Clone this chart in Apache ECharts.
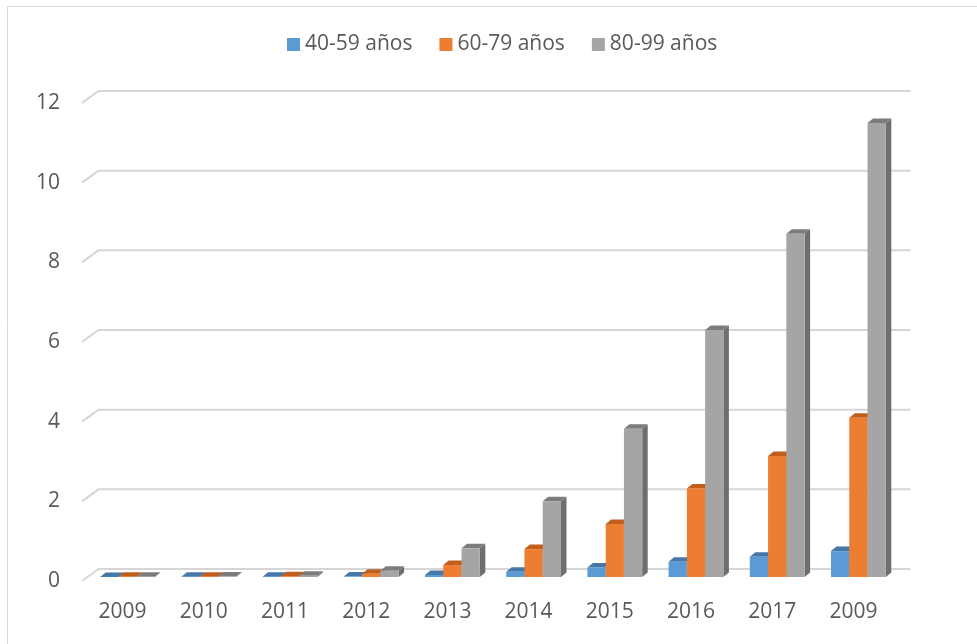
<!DOCTYPE html>
<html>
<head>
<meta charset="utf-8">
<script src="https://cdn.jsdelivr.net/npm/echarts@6/dist/echarts.min.js"></script>
<style>html,body{margin:0;padding:0;background:#fff}#c{width:977px;height:644px}</style>
</head>
<body>
<div id="c"></div>
<script>
var categories = ['2009','2010','2011','2012','2013','2014','2015','2016','2017','2009'];
var seriesNames = ['40-59 años','60-79 años','80-99 años'];
var age40_59 = [0.003,0.004,0.005,0.01,0.05,0.13,0.24,0.38,0.51,0.65];
var age60_79 = [0.005,0.008,0.02,0.08,0.30,0.70,1.33,2.22,3.04,4.00];
var age80_99 = [0.006,0.012,0.03,0.16,0.72,1.90,3.72,6.20,8.62,11.40];
var yTicks = [0,2,4,6,8,10,12];

var FONT = '"Open Sans", "Liberation Sans", sans-serif';
var TEXT = '#595959';
var faces = [
  {front:'#5b9bd5', top:'#4577a8', side:'#3f6e9a'},
  {front:'#ed7d31', top:'#c25e1c', side:'#b35418'},
  {front:'#a5a5a5', top:'#7c7c7c', side:'#6e6e6e'}
];
var BAR_FRAC = 0.225;
var FRONT_DX = 5, FRONT_DY = -4;   // bar front face depth offset
var DEP_DX = 5.5, DEP_DY = -4.5;   // bar depth
var WALL_DX = 16.5, WALL_DY = -12; // back wall depth

function barRender(sIdx){
  return function(params, api){
    var ci = api.value(0), v = api.value(1);
    var base = api.coord([ci, 0]);
    var top = api.coord([ci, v]);
    var band = api.size([1, 0])[0];
    var bw = band * BAR_FRAC;
    var x0 = base[0] + (sIdx - 1) * bw - bw / 2 + FRONT_DX;
    var yb = base[1] + FRONT_DY;
    var yt = top[1] + FRONT_DY;
    var f = faces[sIdx];
    return {type:'group', children:[
      {type:'polygon', shape:{points:[[x0+bw,yt],[x0+bw+DEP_DX,yt+DEP_DY],[x0+bw+DEP_DX,yb+DEP_DY],[x0+bw,yb]]}, style:{fill:f.side}},
      {type:'polygon', shape:{points:[[x0,yt],[x0+bw,yt],[x0+bw+DEP_DX,yt+DEP_DY],[x0+DEP_DX,yt+DEP_DY]]}, style:{fill:f.top}},
      {type:'rect', shape:{x:x0, y:yt, width:bw, height:Math.max(yb-yt,0)}, style:{fill:f.front}}
    ]};
  };
}

function gridRender(params, api){
  var v = api.value(0);
  var p0 = api.coord([0, v]);
  var band = api.size([1, 0])[0];
  var xs = p0[0] - band / 2;
  var xe = api.coord([categories.length - 1, v])[0] + band / 2;
  var y = p0[1];
  return {type:'polyline', shape:{points:[[xs,y],[xs+WALL_DX,y+WALL_DY],[xe+WALL_DX,y+WALL_DY]]},
    style:{stroke:'#d6d6d6', lineWidth:2, fill:null}};
}

var allVals = [age40_59, age60_79, age80_99];
var series = [{
  type:'custom', name:'grid', renderItem:gridRender, silent:true, z:1,
  data: yTicks.map(function(t){return [t];}), encode:{y:0}
}];
seriesNames.forEach(function(n, i){
  series.push({
    type:'custom', name:n, renderItem:barRender(i), z:2 + i,
    itemStyle:{color:faces[i].front},
    data: allVals[i].map(function(v, k){return [k, v];}),
    encode:{x:0, y:1}
  });
});

var chart = echarts.init(document.getElementById('c'), null, {renderer:'canvas'});
chart.setOption({
  animation:false,
  backgroundColor:'#fff',
  graphic:[{type:'rect', shape:{x:7.5, y:6.5, width:1100, height:1000}, style:{fill:null, stroke:'#d9d9d9', lineWidth:1}, silent:true}],
  legend:{
    data:seriesNames, left:287, top:34, padding:0, icon:'rect', itemWidth:13, itemHeight:13, itemGap:27,
    textStyle:{fontSize:21, color:TEXT, fontFamily:FONT}
  },
  grid:{left:82, right:83, top:103, bottom:63},
  xAxis:{type:'category', data:categories, axisLine:{show:false}, axisTick:{show:false},
    axisLabel:{fontSize:21, color:TEXT, fontFamily:FONT, margin:21}},
  yAxis:{type:'value', min:0, max:12, interval:2, axisLine:{show:false}, axisTick:{show:false}, splitLine:{show:false},
    axisLabel:{fontSize:21, color:TEXT, fontFamily:FONT, margin:22}},
  series:series
});
</script>
</body>
</html>
